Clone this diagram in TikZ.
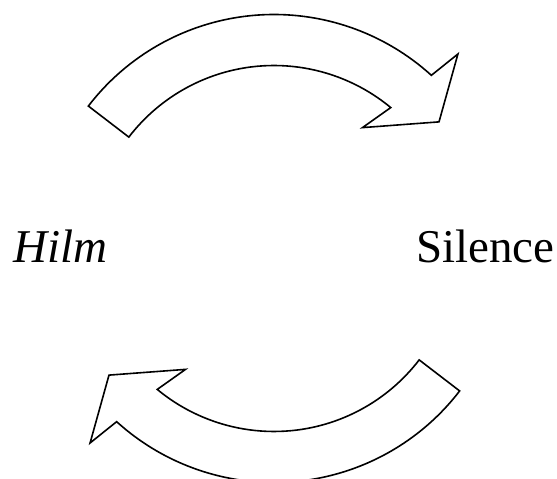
\documentclass[tikz,border=0pt]{standalone}
\usepackage{fontspec}
\setmainfont{Liberation Serif}
\usetikzlibrary{positioning}

\begin{document}
\begin{tikzpicture}[
  x=1pt, y=1pt,
  word/.style={inner sep=0pt, anchor=base west, font=\fontsize{47}{56}\selectfont},
  blockarrow/.style={draw=black, fill=white, line width=1.6pt, line join=miter},
  cyclearrow/.pic={
    \draw[blockarrow] (142.5:234) arc[start angle=142.5, end angle=47.74, radius=234]
      -- (46.6:267.7) -- (37.5:208) -- (53.8:149.8) -- (50.36:183)
      arc[start angle=50.36, end angle=142.5, radius=183] -- cycle;
  },
]
\useasboundingbox (0,0) rectangle (557,479);

% --- Centre of the cycle ---
\coordinate (centre) at (274,230.5);

% --- Arrows ---
\pic at (centre) {cyclearrow};
\pic[rotate=180] at (centre) {cyclearrow};

% --- Words ---
\node[word] (hilm) at (13,216) {\itshape Hilm};
\node[word] (silence) at (416,216) {Silence};

\end{tikzpicture}
\end{document}
